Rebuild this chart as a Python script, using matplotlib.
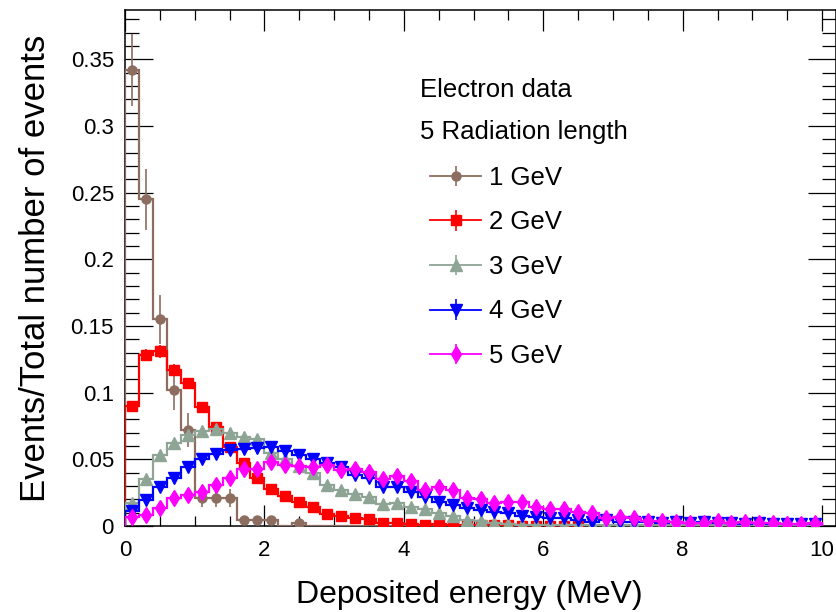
import numpy as np
import matplotlib
matplotlib.use('Agg')
import matplotlib.pyplot as plt
from matplotlib.lines import Line2D
from matplotlib.container import ErrorbarContainer
from matplotlib.legend_handler import HandlerErrorbar, HandlerTuple
from matplotlib.ticker import MultipleLocator, FuncFormatter

plt.rcParams['font.family'] = 'Liberation Sans'

# 50 bins of 0.2 MeV between 0 and 10 MeV
bin_edges = np.linspace(0, 10, 51)

labels = ['1 GeV', '2 GeV', '3 GeV', '4 GeV', '5 GeV']
colors = ['#8c6d60', '#ff0000', '#8ea596', '#0000ff', '#ff00ff']
markers = ['o', 's', '^', 'v', 'd']
n_events = [470, 6000, 6000, 6000, 6000]

e1 = [0.342, 0.245, 0.155, 0.102, 0.072, 0.0213, 0.0213, 0.0213, 0.0043, 0.0043,
      0.0043, 0.0, 0.0021, 0.0, 0.0, 0.0, 0.0, 0.0, 0.0, 0.0,
      0.0, 0.0, 0.0, 0.0, 0.0, 0.0, 0.0, 0.0, 0.0, 0.0,
      0.0, 0.0, 0.0, 0.0, 0.0, 0.0, 0.0, 0.0, 0.0, 0.0,
      0.0, 0.0, 0.0, 0.0, 0.0, 0.0, 0.0, 0.0, 0.0, 0.0]
e2 = [0.090, 0.128, 0.131, 0.117, 0.107, 0.089, 0.074, 0.0595, 0.0475, 0.036,
      0.028, 0.0227, 0.0178, 0.0145, 0.009, 0.0077, 0.0058, 0.0052, 0.0025, 0.0025,
      0.0015, 0.001, 0.0012, 0.0008, 0.0008, 0.0005, 0.0005, 0.0005, 0.0003, 0.0003,
      0.0003, 0.0003, 0.0003, 0.0, 0.0, 0.0, 0.0, 0.0, 0.0, 0.0,
      0.0, 0.0, 0.0, 0.0, 0.0, 0.0, 0.0, 0.0, 0.0, 0.0]
e3 = [0.017, 0.035, 0.053, 0.062, 0.068, 0.0715, 0.073, 0.070, 0.067, 0.065,
      0.055, 0.050, 0.045, 0.040, 0.031, 0.027, 0.0237, 0.0215, 0.0165, 0.0175,
      0.014, 0.0125, 0.0095, 0.0075, 0.0048, 0.004, 0.002, 0.0018, 0.001, 0.001,
      0.0008, 0.0008, 0.0006, 0.0006, 0.0006, 0.0005, 0.0005, 0.0005, 0.0005, 0.0005,
      0.0005, 0.0004, 0.0004, 0.0004, 0.0004, 0.0004, 0.0004, 0.0004, 0.0004, 0.0004]
e4 = [0.011, 0.0195, 0.029, 0.036, 0.044, 0.050, 0.054, 0.057, 0.058, 0.0585,
      0.0595, 0.056, 0.053, 0.050, 0.047, 0.044, 0.0385, 0.036, 0.0295, 0.0295,
      0.0255, 0.022, 0.0178, 0.0157, 0.0135, 0.0122, 0.0102, 0.0095, 0.0075, 0.007,
      0.0058, 0.006, 0.0045, 0.0032, 0.0045, 0.0032, 0.0028, 0.0028, 0.0025, 0.0028,
      0.0025, 0.0028, 0.002, 0.0022, 0.0018, 0.002, 0.0018, 0.0018, 0.0015, 0.0018]
e5 = [0.007, 0.008, 0.0137, 0.021, 0.023, 0.0257, 0.031, 0.036, 0.043, 0.0425,
      0.048, 0.0457, 0.045, 0.0445, 0.0457, 0.042, 0.0427, 0.0405, 0.035, 0.0375,
      0.034, 0.0272, 0.0293, 0.0272, 0.0213, 0.0205, 0.0173, 0.0178, 0.0177, 0.0142,
      0.0125, 0.0125, 0.0102, 0.0095, 0.0058, 0.007, 0.0058, 0.004, 0.004, 0.0032,
      0.0025, 0.002, 0.004, 0.002, 0.003, 0.0025, 0.002, 0.0015, 0.0015, 0.002]
series = [e1, e2, e3, e4, e5]
marker_sizes = [6.5, 6.5, 8.5, 8.5, 8]

fig = plt.figure(figsize=(8.36, 6.12), dpi=100)
ax = fig.add_axes([125 / 836, 86 / 612, 711 / 836, 516 / 612])

centers = 0.5 * (bin_edges[:-1] + bin_edges[1:])
handles = []
for i, vals in enumerate(series):
    y = np.array(vals)
    err = np.sqrt(y / n_events[i])
    c = colors[i]
    ax.stairs(y, bin_edges, baseline=0, color=c, lw=1.6, zorder=3 + i)
    m = y > 0
    eb = ax.errorbar(centers[m], y[m], yerr=err[m], fmt=markers[i], ls='none',
                     color=c, mfc=c, mec=c, ms=marker_sizes[i], elinewidth=1.2,
                     capsize=0, zorder=3.5 + i)
    handles.append((Line2D([], [], color=c, lw=1.3), eb))

ax.set_xlim(0, 10.2)
ax.set_ylim(0, 0.387)

ax.xaxis.set_major_locator(MultipleLocator(2))
ax.xaxis.set_minor_locator(MultipleLocator(0.5))
ax.yaxis.set_major_locator(MultipleLocator(0.05))
ax.yaxis.set_minor_locator(MultipleLocator(0.01))
ax.yaxis.set_major_formatter(FuncFormatter(lambda v, p: f'{round(v, 3):g}'))
ax.tick_params(which='both', direction='in', top=True, right=True,
               width=0.9, color='black', labelsize=16)
ax.tick_params(axis='x', which='major', length=15, pad=10)
ax.tick_params(axis='x', which='minor', length=7.5)
ax.tick_params(axis='y', which='major', length=20, pad=8)
ax.tick_params(axis='y', which='minor', length=10)
for s in ax.spines.values():
    s.set_linewidth(1.1)

ax.set_xlabel('Deposited energy (MeV)', fontsize=23)
ax.set_ylabel('Events/Total number of events', fontsize=25)
ax.xaxis.set_label_coords(0.484, -0.105)
ax.yaxis.set_label_coords(-0.103, 0.5)

ax.text(0.415, 0.845, 'Electron data', transform=ax.transAxes,
        fontsize=18.5, va='center', ha='left')
ax.text(0.415, 0.763, '5 Radiation length', transform=ax.transAxes,
        fontsize=18.5, va='center', ha='left')

ax.legend(handles, labels,
          handler_map={ErrorbarContainer: HandlerErrorbar(xerr_size=0.4, yerr_size=0.4),
                       tuple: HandlerTuple(ndivide=1)},
          loc='upper left', bbox_to_anchor=(0.429, 0.698), frameon=False,
          fontsize=18.5, handlelength=2.0, handletextpad=0.3, labelspacing=0.8,
          borderpad=0, borderaxespad=0, numpoints=1)

fig.savefig('out.png', dpi=100)
